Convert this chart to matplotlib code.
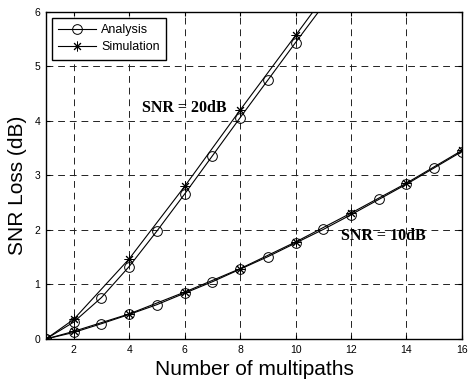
import matplotlib.pyplot as plt
import numpy as np

# analysis (circles, every path count) and simulation (stars, even counts)
x_ana = np.arange(1, 17)
ana_10 = [0, 0.12, 0.28, 0.45, 0.63, 0.84, 1.05, 1.28, 1.51, 1.76, 2.01, 2.28, 2.56, 2.84, 3.14, 3.44]
x_ana20 = np.arange(1, 12)
ana_20 = [0, 0.31, 0.76, 1.33, 1.98, 2.66, 3.36, 4.06, 4.75, 5.44, 6.12]

x_sim = [1, 2, 4, 6, 8, 10, 12, 14, 16]
sim_10 = [0, 0.14, 0.46, 0.86, 1.29, 1.78, 2.31, 2.86, 3.46]
x_sim20 = [1, 2, 4, 6, 8, 10, 12]
sim_20 = [0, 0.36, 1.47, 2.80, 4.20, 5.57, 6.95]

plt.rcParams['font.family'] = ['Liberation Sans', 'DejaVu Sans']

fig = plt.figure(figsize=(4.69, 3.82), dpi=100)
ax = fig.add_axes([0.098, 0.1126, 0.887, 0.856])

lw = 0.8
star = (8, 2, 0)  # asterisk
ax.plot(x_ana, ana_10, '-', color='k', lw=lw, marker='o', ms=7, mfc='none', mew=0.7, label='Analysis')
ax.plot(x_sim, sim_10, '-', color='k', lw=lw, marker=star, ms=7, mew=0.7, label='Simulation')
ax.plot(x_ana20, ana_20, '-', color='k', lw=lw, marker='o', ms=7, mfc='none', mew=0.7)
ax.plot(x_sim20, sim_20, '-', color='k', lw=lw, marker=star, ms=7, mew=0.7)

ax.text(6.0, 4.24, 'SNR = 20dB', family='Liberation Serif', fontweight='bold',
        fontsize=11.5, ha='center', va='center')
ax.text(13.15, 1.89, 'SNR = 10dB', family='Liberation Serif', fontweight='bold',
        fontsize=11.5, ha='center', va='center')

ax.set_xlim(1, 16)
ax.set_ylim(0, 6)
ax.set_xticks([2, 4, 6, 8, 10, 12, 14, 16])
ax.set_yticks([0, 1, 2, 3, 4, 5, 6])
ax.tick_params(direction='in', labelsize=7.5, length=3, pad=4, top=True, right=True)
ax.grid(True, color='#222222', linestyle=(0, (7, 5)), linewidth=0.7)
for s in ax.spines.values():
    s.set_linewidth(1.0)

ax.set_xlabel('Number of multipaths', fontsize=15, labelpad=4)
ax.set_ylabel('SNR Loss (dB)', fontsize=15)
ax.yaxis.set_label_coords(-0.046, 0.47)

leg = ax.legend(loc='upper left', fontsize=9, fancybox=False, framealpha=1,
                edgecolor='k', borderaxespad=0.5, handlelength=3.0, handletextpad=0.4,
                borderpad=0.5, labelspacing=0.4)
leg.get_frame().set_linewidth(1.0)

fig.savefig('out.png', dpi=100)
